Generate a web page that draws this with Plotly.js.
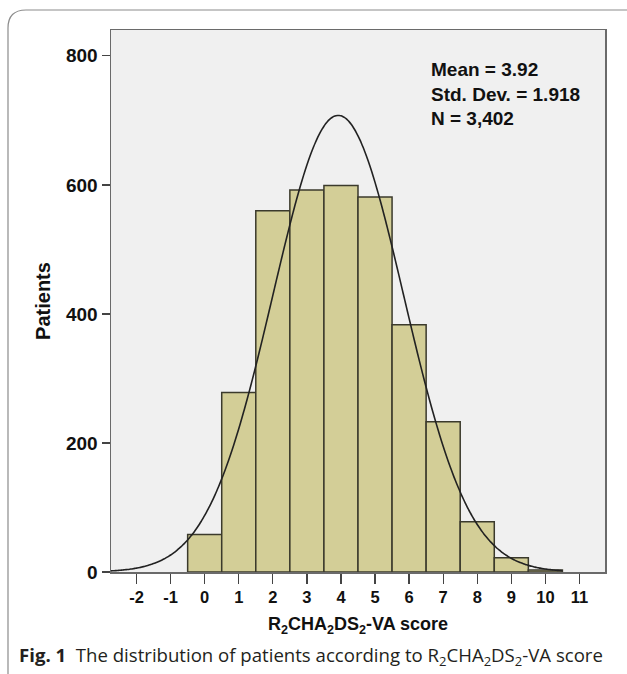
<!DOCTYPE html>
<html>
<head>
<meta charset="utf-8">
<script src="https://cdn.plot.ly/plotly-3.0.1.min.js"></script>
<style>html,body{margin:0;padding:0;background:#fff;}#chart{width:627px;height:674px;}</style>
</head>
<body>
<div id="chart"></div>
<script>
// Data
const scores = [0, 1, 2, 3, 4, 5, 6, 7, 8, 9, 10];
const patients = [58, 278, 560, 592, 599, 581, 383, 233, 78, 22, 3];
const xTickVals = [-2, -1, 0, 1, 2, 3, 4, 5, 6, 7, 8, 9, 10, 11];
const xTickText = ['-2', '-1', '0', '1', '2', '3', '4', '5', '6', '7', '8', '9', '10', '11'];
const yTickVals = [0, 200, 400, 600, 800];
const yTickText = ['0', '200', '400', '600', '800'];
const statsMean = [3.92];
const statsSD = [1.918];
const statsN = [3402];
const statsLabels = ['Mean = 3.92', 'Std. Dev. = 1.918', 'N = 3,402'];

// Fitted normal curve (from the stated mean / SD / N, bin width 1)
const curveX = [];
const curveY = [];
const mu = statsMean[0], sd = statsSD[0], n = statsN[0];
for (let i = 0; i <= 265; i++) {
  const x = -2.75 + i * 0.05;
  curveX.push(x);
  curveY.push(n / (sd * Math.sqrt(2 * Math.PI)) * Math.exp(-0.5 * Math.pow((x - mu) / sd, 2)));
}

const traces = [
  {
    type: 'bar', x: scores, y: patients, width: 1,
    marker: {color: '#d3ce97', line: {color: '#3b3a2c', width: 1.5}},
    hoverinfo: 'x+y'
  },
  {
    type: 'scatter', mode: 'lines', x: curveX, y: curveY,
    line: {color: '#222222', width: 1.6, shape: 'spline'},
    hoverinfo: 'skip'
  }
];

// Pixel helpers for paper coordinates (plot area: x 111..605, y 30..572)
const L = 111, R = 605, T = 30, B = 572;
const px = v => (v - L) / (R - L);
const py = v => (B - v) / (B - T);
const rr = 18;
const cardPath = 'M ' + px(8) + ',' + py(674) +
  ' L ' + px(8) + ',' + py(10 + rr) +
  ' Q ' + px(8) + ',' + py(10) + ' ' + px(8 + rr) + ',' + py(10) +
  ' L ' + px(640) + ',' + py(10);

const annotations = [
  {
    xref: 'paper', yref: 'paper', x: px(429), y: py(57), xanchor: 'left', yanchor: 'top',
    text: statsLabels.join('<br>'), align: 'left', showarrow: false,
    font: {family: 'Liberation Sans, Arial, sans-serif', size: 19, color: '#111', weight: 'bold'}
  },
  {
    xref: 'paper', yref: 'paper', x: px(17), y: py(656), xanchor: 'left', yanchor: 'middle',
    text: '<b>Fig. 1</b>  The distribution of patients according to R<sub>2</sub>CHA<sub>2</sub>DS<sub>2</sub>-VA score',
    showarrow: false,
    font: {family: 'Open Sans, sans-serif', size: 18.6, color: '#231f20'}
  }
];

const layout = {
  width: 627, height: 674,
  margin: {l: L, r: 627 - R, t: T, b: 674 - B, pad: 0},
  paper_bgcolor: '#ffffff',
  plot_bgcolor: '#f0f0f0',
  showlegend: false,
  bargap: 0,
  font: {family: 'Liberation Sans, Arial, sans-serif', color: '#111'},
  xaxis: {
    range: [-2.75, 11.75], tickmode: 'array', tickvals: xTickVals, ticktext: xTickText,
    ticks: 'outside', ticklen: 10, tickwidth: 1.3, tickcolor: '#444',
    showgrid: false, zeroline: false,
    showline: true, linecolor: '#6a6a6a', linewidth: 1.5, mirror: true,
    tickfont: {size: 16.5, weight: 'bold', color: '#111'},
    title: {text: 'R<sub>2</sub>CHA<sub>2</sub>DS<sub>2</sub>-VA score', font: {size: 18, weight: 'bold', color: '#111'}, standoff: 12}
  },
  yaxis: {
    range: [0, 840], tickmode: 'array', tickvals: yTickVals, ticktext: yTickText,
    ticks: 'outside', ticklen: 8, tickwidth: 1.3, tickcolor: '#444',
    showgrid: false, zeroline: false,
    showline: true, linecolor: '#6a6a6a', linewidth: 1.5, mirror: true,
    tickfont: {size: 19, weight: 'bold', color: '#111'},
    title: {text: 'Patients', font: {size: 20, weight: 'bold', color: '#111'}, standoff: 10}
  },
  shapes: [
    {type: 'path', xref: 'paper', yref: 'paper', path: cardPath, line: {color: '#8c8c8c', width: 1.2}}
  ],
  annotations: annotations
};

Plotly.newPlot('chart', traces, layout, {displayModeBar: false, staticPlot: true});
</script>
</body>
</html>
